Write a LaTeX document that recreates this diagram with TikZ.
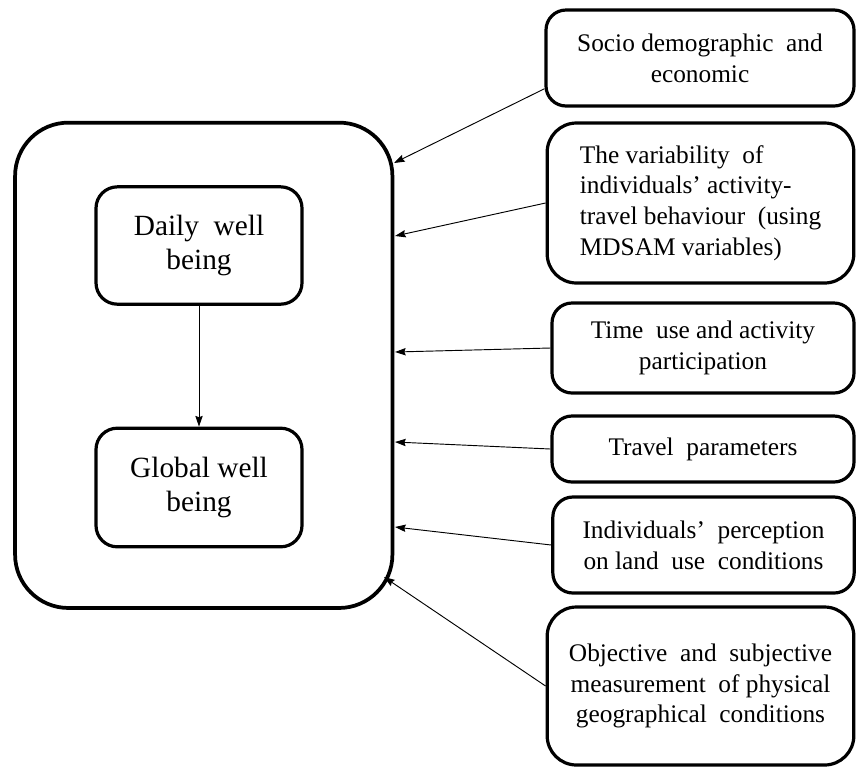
\documentclass[tikz,border=0pt]{standalone}
\usepackage{fontspec}
\setmainfont{Liberation Serif}
\usetikzlibrary{arrows.meta,calc}
\tikzstyle{factor} = [draw, line width=2.4pt, rounded corners=15pt, align=center,
	inner sep=0pt, font=\fontsize{19}{23}\selectfont]
\tikzstyle{wellbox} = [draw, line width=2.4pt, rounded corners=16pt, align=center,
	inner sep=0pt, minimum width=154.5pt, font=\fontsize{22}{26}\selectfont]
\tikzstyle{outerbox} = [draw, line width=2.8pt, rounded corners=40pt,
	minimum width=283pt, minimum height=364pt]
\tikzstyle{feed} = [-{Stealth[length=8pt,width=5.5pt,inset=1pt]}, line width=0.7pt]

\begin{document}
\begin{tikzpicture}[x=0.75pt,y=-0.75pt]
	\useasboundingbox (0,0) rectangle (859,769);
	% well being block
	\node[outerbox] (outer) at (203.75,365.3) {};
	\node[wellbox, minimum height=88pt] (daily) at (199,245.5) {Daily\ \ well\\being};
	\node[wellbox, minimum height=89pt] (global) at (199,487.5) {Global well\\being};
	\draw[feed] (daily) -- (global);
	
	% factors
	\node[factor, minimum width=231pt, minimum height=72pt] (soc) at (700,58)
		{Socio demographic\ \ and\\economic};
	\node[factor, rounded corners=22pt, align=left, minimum width=230pt, minimum height=120pt] (var) at (700.5,203)
		{The variability\ \ of\\individuals' activity-\\travel behaviour\ \ (using\\MDSAM variables)};
	\node[factor, minimum width=226.5pt, minimum height=67.5pt] (time) at (703,348)
		{Time\ \ use and activity\\participation};
	\node[factor, minimum width=226.5pt, minimum height=49.5pt] (trav) at (703,449)
		{Travel\ \ parameters};
	\node[factor, minimum width=226pt, minimum height=72pt] (perc) at (703.5,545)
		{Individuals'\ \ perception\\on land\ \ use\ \ conditions};
	\node[factor, rounded corners=22pt, minimum width=230pt, minimum height=118.5pt] (obj) at (700.5,686)
		{Objective\ \ and\ \ subjective\\measurement\ \ of physical\\geographical\ \ conditions};
	
	% arrow ends on the block
	\coordinate (in1) at (394,163);
	\coordinate (in2) at (395,236);
	\coordinate (in3) at (395,352);
	\coordinate (in4) at (395,442);
	\coordinate (in5) at (395,527);
	\coordinate (in6) at (384,577);
	\draw[feed] ($(soc.west)!0.62!(soc.south west)$) -- (in1);
	\draw[feed] (var.west) -- (in2);
	\draw[feed] (time.west) -- (in3);
	\draw[feed] (trav.west) -- (in4);
	\draw[feed] (perc.west) -- (in5);
	\draw[feed] (obj.west) -- (in6);
\end{tikzpicture}
\end{document}
